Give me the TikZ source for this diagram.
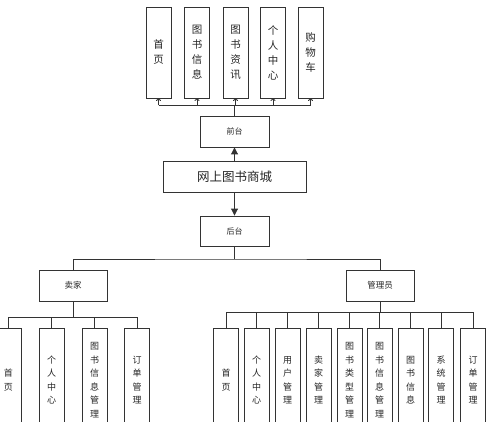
\documentclass[tikz,border=0pt]{standalone}
\usepackage{fontspec}
\newfontfamily\cjk{Noto Sans CJK SC}
\usetikzlibrary{arrows.meta}
\definecolor{linec}{HTML}{333333}
\definecolor{txtc}{HTML}{262626}
\begin{document}
\begin{tikzpicture}[x=1pt,y=-1pt,
  box/.style={draw=linec, line width=0.9pt, fill=white, inner sep=0pt, text=txtc},
  topbox/.style={box, minimum width=25pt, minimum height=91pt, align=center, font=\cjk\fontsize{10.5}{15}\selectfont},
  lowbox/.style={box, minimum width=25pt, minimum height=104pt, align=center, font=\cjk\fontsize{9}{13.5}\selectfont},
  midbox/.style={box, minimum width=69pt, minimum height=31pt, font=\cjk\fontsize{8}{10}\selectfont},
  wire/.style={draw=linec, line width=0.9pt},
  upar/.style={wire, -{To[length=2.5pt,width=5pt]}},
  solidar/.style={wire, -{Triangle[length=7pt,width=7pt]}}]
\useasboundingbox (0,0) rectangle (500,422);
\clip (0,0) rectangle (500,422);
\fill[white] (0,0) rectangle (500,422);

% top level
\node[topbox] (t1) at (158.5,52.5) {首\\页};
\node[topbox] (t2) at (197,52.5) {图\\书\\信\\息};
\node[topbox] (t3) at (235.5,52.5) {图\\书\\资\\讯};
\node[topbox] (t4) at (273,52.5) {个\\人\\中\\心};
\node[topbox] (t5) at (310.5,52.5) {购\\物\\车};

\node[midbox] (qt) at (234.5,131.5) {前台};
\node[midbox, minimum width=143pt, font=\cjk\fontsize{12.5}{14}\selectfont] (mall) at (234.5,176.5) {网上图书商城};
\node[midbox, minimum height=30pt] (ht) at (234.5,231) {后台};

\node[midbox, minimum width=68pt, font=\cjk\fontsize{8.5}{10}\selectfont] (seller) at (73,285.5) {卖家};
\node[midbox, minimum width=68pt, font=\cjk\fontsize{8.5}{10}\selectfont] (admin) at (380,285.5) {管理员};

% seller children
\node[lowbox] (s1) at (8.5,380) {首\\页};
\node[lowbox] (s2) at (51.5,380) {个\\人\\中\\心};
\node[lowbox] (s3) at (94.5,380) {图\\书\\信\\息\\管\\理};
\node[lowbox] (s4) at (137,380) {订\\单\\管\\理};

% admin children
\node[lowbox] (a1) at (226,380) {首\\页};
\node[lowbox] (a2) at (256.5,380) {个\\人\\中\\心};
\node[lowbox] (a3) at (287.5,380) {用\\户\\管\\理};
\node[lowbox] (a4) at (318.5,380) {卖\\家\\管\\理};
\node[lowbox] (a5) at (349.5,380) {图\\书\\类\\型\\管\\理};
\node[lowbox] (a6) at (379.5,380) {图\\书\\信\\息\\管\\理};
\node[lowbox] (a7) at (410.5,380) {图\\书\\信\\息};
\node[lowbox] (a8) at (441,380) {系\\统\\管\\理};
\node[lowbox] (a9) at (473,380) {订\\单\\管\\理};

% front bus
\coordinate (fb) at (234.5,105.5);
\draw[wire] (qt.north) -- (fb);
\draw[wire] (fb -| t1) -- (fb -| t5);
\foreach \t in {t1,t2,t3,t4,t5} \draw[upar] (fb -| \t) -- (\t.south);

\draw[solidar] (mall.north) -- (qt.south);
\draw[solidar] (mall.south) -- (ht.north);

% back bus
\coordinate (bb) at (234.5,259);
\draw[wire] (ht.south) -- (bb);
\draw[wire] (seller.north) |- (bb) -| (admin.north);

% seller bus
\coordinate (sb) at (73,317);
\draw[wire] (seller.south) -- (sb);
\draw[wire] (sb -| s1) -- (sb -| s4);
\foreach \s in {s1,s2,s3,s4} \draw[wire] (sb -| \s) -- (\s.north);

% admin bus
\coordinate (ab) at (380,312);
\draw[wire] (admin.south) -- (ab);
\draw[wire] (ab -| a1) -- (ab -| a9);
\foreach \a in {a1,a2,a3,a4,a5,a6,a7,a8,a9} \draw[wire] (ab -| \a) -- (\a.north);
\end{tikzpicture}
\end{document}
